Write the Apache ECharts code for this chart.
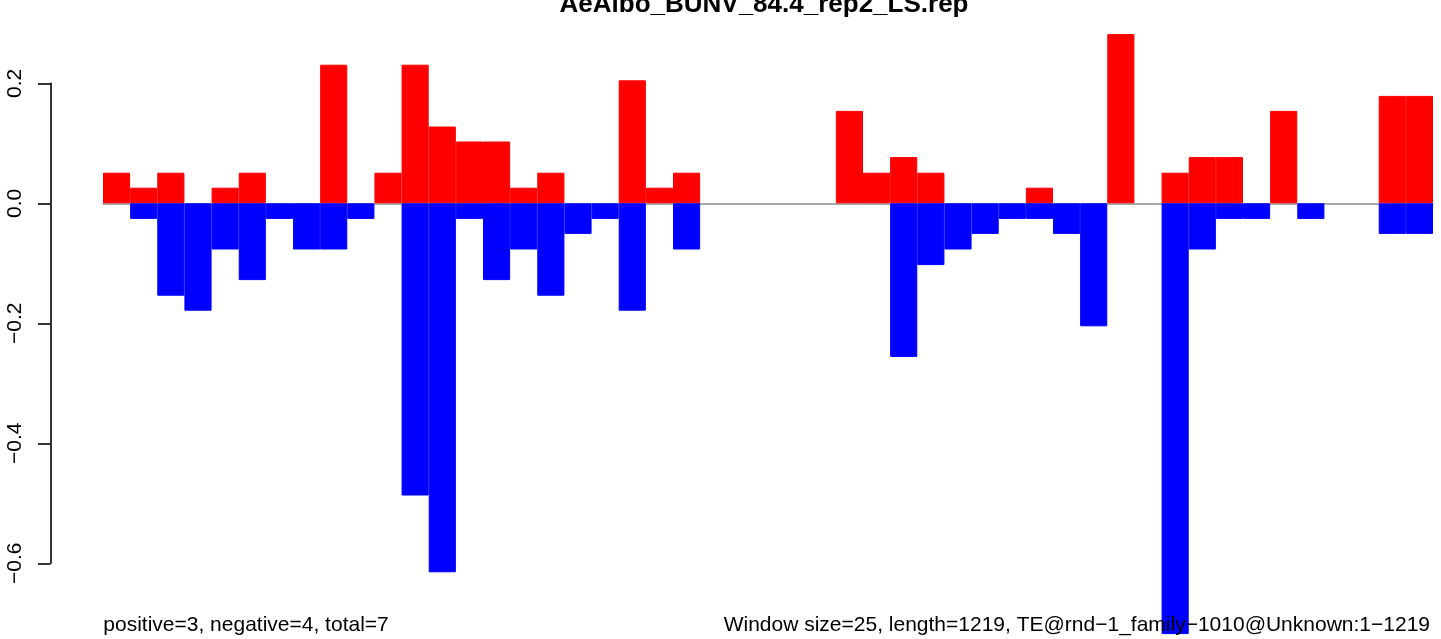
<!DOCTYPE html>
<html>
<head>
<meta charset="utf-8">
<script src="https://cdn.jsdelivr.net/npm/echarts@6/dist/echarts.min.js"></script>
<style>
html,body{margin:0;padding:0;background:#fff;}
#chart{width:1441px;height:639px;}
</style>
</head>
<body>
<div id="chart"></div>
<script>
// Window index (1..49), window size 25 over length 1219
const categories = Array.from({length: 49}, (_, i) => String(i + 1));
// Positive (red) values per window
const positive = [0.051,0.026,0.051,0,0.026,0.051,0,0,0.231,0,
                  0.051,0.231,0.128,0.103,0.103,0.026,0.051,0,0,0.205,
                  0.026,0.051,0,0,0,0,0,0.154,0.051,0.077,
                  0.051,0,0,0,0.026,0,0,0.282,0,0.051,
                  0.077,0.077,0,0.154,0,0,0,0.179,0.179];
// Negative (blue) values per window
const negative = [0,-0.026,-0.154,-0.179,-0.077,-0.128,-0.026,-0.077,-0.077,-0.026,
                  0,-0.487,-0.615,-0.026,-0.128,-0.077,-0.154,-0.051,-0.026,-0.179,
                  0,-0.077,0,0,0,0,0,0,0,-0.256,
                  -0.103,-0.077,-0.051,-0.026,-0.026,-0.051,-0.205,0,0,-0.718,
                  -0.077,-0.026,-0.026,0,-0.026,0,0,-0.051,-0.051];
const yTicks = [-0.6, -0.4, -0.2, 0.0, 0.2];
const titleText = 'AeAlbo_BUNV_84.4_rep2_LS.rep';
const leftNote = 'positive=3, negative=4, total=7';
const rightNote = 'Window size=25, length=1219, TE@rnd\u22121_family\u22121010@Unknown:1\u22121219';

// empty windows are not drawn at all
const asBars = arr => arr.map(v => (v === 0 ? '-' : v));

const FONT = '"Liberation Sans", Arial, Helvetica, sans-serif';
const chart = echarts.init(document.getElementById('chart'), null, {renderer: 'canvas'});
chart.setOption({
  animation: false,
  backgroundColor: '#ffffff',
  grid: {left: 103, right: 8, top: 83.3, bottom: 75.7, containLabel: false},
  xAxis: {
    type: 'category',
    data: categories,
    boundaryGap: true,
    axisLine: {show: true, onZero: true, lineStyle: {color: '#8c8c8c', width: 1.5}},
    axisTick: {show: false},
    axisLabel: {show: false},
    splitLine: {show: false}
  },
  yAxis: {
    type: 'value',
    min: yTicks[0],
    max: yTicks[yTicks.length - 1],
    interval: 0.2,
    position: 'left',
    offset: 52.5,
    axisLine: {show: true, lineStyle: {color: '#000', width: 1.6}},
    axisTick: {show: true, length: 12.6, lineStyle: {color: '#000', width: 1.6}},
    splitLine: {show: false},
    axisLabel: {
      rotate: 90,
      margin: 25,
      fontSize: 21,
      fontFamily: FONT,
      color: '#000',
      formatter: v => (Math.abs(v) < 1e-9 ? '0.0' : v.toFixed(1).replace('-', '\u2212'))
    }
  },
  series: [
    {
      type: 'bar', name: 'positive', data: asBars(positive),
      barGap: '-100%', barCategoryGap: 0, clip: false,
      itemStyle: {color: '#ff0000', borderColor: '#ff0000', borderWidth: 1}, z: 2
    },
    {
      type: 'bar', name: 'negative', data: asBars(negative),
      barGap: '-100%', barCategoryGap: 0, clip: false,
      itemStyle: {color: '#0000ff', borderColor: '#0000ff', borderWidth: 1}, z: 2
    }
  ],
  graphic: [
    {
      type: 'text', z: 100,
      style: {x: 764, y: 4.5, text: titleText, fill: '#000',
        font: 'bold 26px ' + FONT,
        align: 'center', verticalAlign: 'middle', textAlign: 'center', textVerticalAlign: 'middle'}
    },
    {
      type: 'text', z: 100,
      style: {x: 103.3, y: 625.5, text: leftNote, fill: '#000',
        font: '21px ' + FONT,
        align: 'left', verticalAlign: 'middle', textAlign: 'left', textVerticalAlign: 'middle'}
    },
    {
      type: 'text', z: 100,
      style: {x: 1430, y: 625.5, text: rightNote, fill: '#000',
        font: '21px ' + FONT,
        align: 'right', verticalAlign: 'middle', textAlign: 'right', textVerticalAlign: 'middle'}
    }
  ]
});
</script>
</body>
</html>
